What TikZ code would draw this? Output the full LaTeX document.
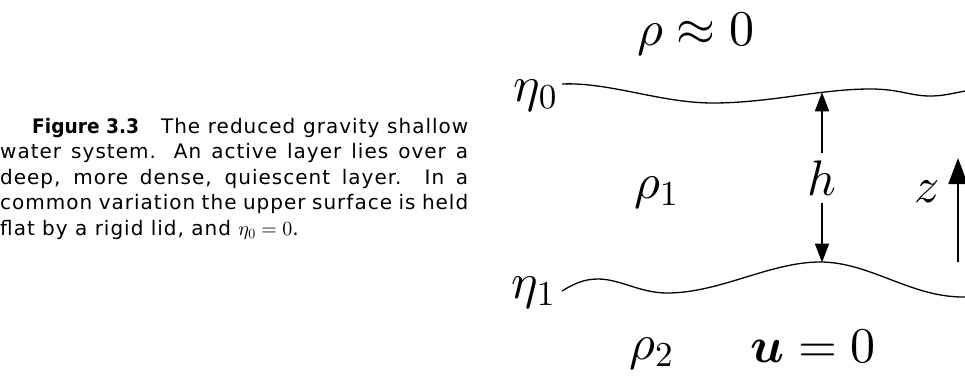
\documentclass[tikz,border=0pt]{standalone}
\usepackage{graphicx}
\usepackage{amsmath}
\usepackage{fontspec}
\DeclareFontShape{OML}{cmm}{m}{it}{<->cmmi10}{}
\DeclareFontShape{OML}{cmm}{b}{it}{<->cmmib10}{}
\DeclareFontShape{OMS}{cmsy}{m}{n}{<->cmsy10}{}
\DeclareFontShape{OMS}{cmsy}{b}{n}{<->cmbsy10}{}
\DeclareFontShape{OT1}{cmr}{m}{n}{<->cmr10}{}
\DeclareFontShape{OT1}{cmr}{bx}{n}{<->cmbx10}{}
\newfontfamily\capfont[LetterSpace=5]{DejaVu Sans}
\usetikzlibrary{arrows.meta}
\newcommand{\figlabel}[1]{\scalebox{0.93}[1]{\textbf{\addfontfeature{LetterSpace=0}#1}}}
\begin{document}
\begin{tikzpicture}[x=1pt,y=-1pt,
  lbl/.style={inner sep=0pt, font=\fontsize{50}{54}\selectfont},
  curve/.style={line width=1.3pt},
  arr/.style={line width=1.8pt,-{Triangle[length=19pt,width=14pt]}},
  zarr/.style={line width=1.9pt,-{Triangle[length=26pt,width=19pt]}},
  captxt/.style={anchor=north west, text width=468pt, align=justify, inner sep=0pt,
    font=\capfont\fontsize{20}{25.5}\selectfont}]
\useasboundingbox (0,0) rectangle (965,375);

% caption
\node[captxt] (caption) at (0,118) {\hspace*{32pt}\figlabel{Figure 3.3}\hspace{22pt}The reduced gravity shallow\linebreak
water system.  An active layer lies over a\linebreak
deep, more dense, quiescent layer.  In a\linebreak
common variation the upper surface is held\linebreak
flat by a rigid lid, and $\eta_0 = 0$.};

% interfaces
\draw[curve] (562,84) .. controls (610,82) and (660,103) .. (713,103)
  .. controls (770,103) and (820,89) .. (870,89)
  .. controls (900,89) and (910,96) .. (930,96)
  .. controls (950,96) and (960,90) .. (990,88);
\draw[curve] (562,291) .. controls (575,283) and (585,279) .. (598,279)
  .. controls (620,279) and (640,293) .. (667,293)
  .. controls (720,293) and (770,262) .. (820,262)
  .. controls (870,262) and (910,297) .. (963,297)
  .. controls (975,297) and (985,295) .. (995,293);

\coordinate (ht) at (822,92.3);
\coordinate (hb) at (822,262.5);
\coordinate (zb) at (958,262);
\coordinate (zt) at (958,158);

% labels
\node[lbl, anchor=base] (rhozero) at (696,45) {$\rho \approx 0$};
\node[lbl, anchor=base east] (eta0) at (557,101) {$\eta_0$};
\node[lbl, anchor=base east] (eta1) at (555,298) {$\eta_1$};
\node[lbl, anchor=base west] (rho1) at (634,198) {$\rho_1$};
\node[lbl, anchor=base] (h) at (822,195) {$h$};
\node[lbl, anchor=base west] (z) at (914,202) {$z$};
\node[lbl, anchor=base west] (rho2) at (629,359) {$\rho_2$};
\node[lbl, anchor=base west] (u) at (750,362) {$\boldsymbol{u} = 0$};

% arrows
\draw[arr, shorten <=7pt] (h.north) -- (ht);
\draw[arr, shorten <=8pt] (h.south) -- (hb);
\draw[zarr] (zb) -- (zt);
\end{tikzpicture}
\end{document}
